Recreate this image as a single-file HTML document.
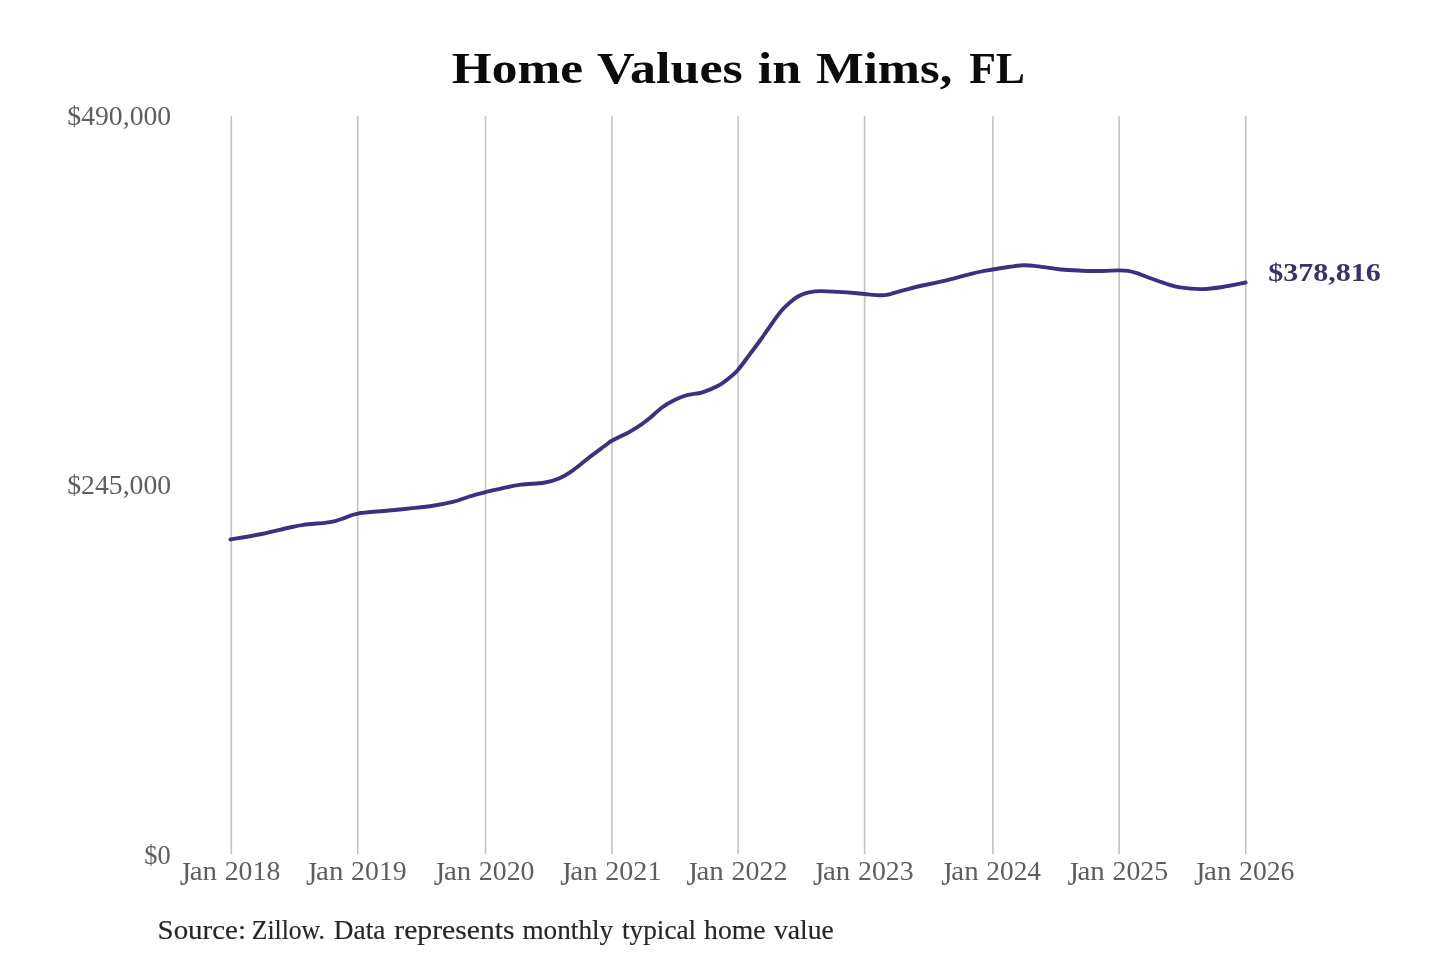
<!DOCTYPE html>
<html><head><meta charset="utf-8"><style>
html,body{margin:0;padding:0;background:#fff;width:1440px;height:960px;overflow:hidden}
svg{display:block;filter:blur(0.6px)}
</style></head><body>
<svg width="1440" height="960" viewBox="0 0 1440 960" font-family="Liberation Serif">
<rect width="1440" height="960" fill="#fff"/>
<g fill="#0b0b0b"><text x="451.77" y="83" font-size="44" font-weight="bold" textLength="131.19" lengthAdjust="spacingAndGlyphs">Home</text><text x="597.08" y="83" font-size="44" font-weight="bold" textLength="145.75" lengthAdjust="spacingAndGlyphs">Values</text><text x="757.71" y="83" font-size="44" font-weight="bold" textLength="43.42" lengthAdjust="spacingAndGlyphs">in</text><text x="816.09" y="83" font-size="44" font-weight="bold" textLength="136.23" lengthAdjust="spacingAndGlyphs">Mims,</text><text x="969.13" y="83" font-size="44" font-weight="bold" textLength="55.83" lengthAdjust="spacingAndGlyphs">FL</text></g>
<g stroke="#c2c2c2" stroke-width="1.6"><line x1="231.3" y1="116" x2="231.3" y2="854" /><line x1="357.7" y1="116" x2="357.7" y2="854" /><line x1="485.5" y1="116" x2="485.5" y2="854" /><line x1="611.9" y1="116" x2="611.9" y2="854" /><line x1="738.1" y1="116" x2="738.1" y2="854" /><line x1="864.6" y1="116" x2="864.6" y2="854" /><line x1="992.9" y1="116" x2="992.9" y2="854" /><line x1="1119.1" y1="116" x2="1119.1" y2="854" /><line x1="1245.7" y1="116" x2="1245.7" y2="854" /></g>
<g fill="#5e5e5e">
<text x="67.29" y="124.8" font-size="26.8" textLength="103.92" lengthAdjust="spacingAndGlyphs">$490,000</text>
<text x="67.29" y="494" font-size="26.8" textLength="103.81" lengthAdjust="spacingAndGlyphs">$245,000</text>
<text x="144.24" y="864" font-size="26.8" textLength="26.41" lengthAdjust="spacingAndGlyphs">$0</text>
<text x="179.63" y="880" font-size="26.8" transform="translate(0,862.3) scale(1,1.28) translate(0,-862.3)" textLength="11.12" lengthAdjust="spacingAndGlyphs">J</text><text x="189.73" y="880" font-size="26.8" textLength="27.27" lengthAdjust="spacingAndGlyphs">an</text><text x="224.69" y="880" font-size="26.8" textLength="55.62" lengthAdjust="spacingAndGlyphs">2018</text><text x="306.03" y="880" font-size="26.8" transform="translate(0,862.3) scale(1,1.28) translate(0,-862.3)" textLength="11.12" lengthAdjust="spacingAndGlyphs">J</text><text x="316.13" y="880" font-size="26.8" textLength="27.27" lengthAdjust="spacingAndGlyphs">an</text><text x="351.09" y="880" font-size="26.8" textLength="55.62" lengthAdjust="spacingAndGlyphs">2019</text><text x="433.83" y="880" font-size="26.8" transform="translate(0,862.3) scale(1,1.28) translate(0,-862.3)" textLength="11.12" lengthAdjust="spacingAndGlyphs">J</text><text x="443.93" y="880" font-size="26.8" textLength="27.27" lengthAdjust="spacingAndGlyphs">an</text><text x="478.89" y="880" font-size="26.8" textLength="55.62" lengthAdjust="spacingAndGlyphs">2020</text><text x="560.23" y="880" font-size="26.8" transform="translate(0,862.3) scale(1,1.28) translate(0,-862.3)" textLength="11.12" lengthAdjust="spacingAndGlyphs">J</text><text x="570.33" y="880" font-size="26.8" textLength="27.27" lengthAdjust="spacingAndGlyphs">an</text><text x="605.28" y="880" font-size="26.8" textLength="56.21" lengthAdjust="spacingAndGlyphs">2021</text><text x="686.43" y="880" font-size="26.8" transform="translate(0,862.3) scale(1,1.28) translate(0,-862.3)" textLength="11.12" lengthAdjust="spacingAndGlyphs">J</text><text x="696.53" y="880" font-size="26.8" textLength="27.27" lengthAdjust="spacingAndGlyphs">an</text><text x="731.48" y="880" font-size="26.8" textLength="55.92" lengthAdjust="spacingAndGlyphs">2022</text><text x="812.93" y="880" font-size="26.8" transform="translate(0,862.3) scale(1,1.28) translate(0,-862.3)" textLength="11.12" lengthAdjust="spacingAndGlyphs">J</text><text x="823.03" y="880" font-size="26.8" textLength="27.27" lengthAdjust="spacingAndGlyphs">an</text><text x="857.99" y="880" font-size="26.8" textLength="55.62" lengthAdjust="spacingAndGlyphs">2023</text><text x="941.23" y="880" font-size="26.8" transform="translate(0,862.3) scale(1,1.28) translate(0,-862.3)" textLength="11.12" lengthAdjust="spacingAndGlyphs">J</text><text x="951.33" y="880" font-size="26.8" textLength="27.27" lengthAdjust="spacingAndGlyphs">an</text><text x="986.30" y="880" font-size="26.8" textLength="54.77" lengthAdjust="spacingAndGlyphs">2024</text><text x="1067.43" y="880" font-size="26.8" transform="translate(0,862.3) scale(1,1.28) translate(0,-862.3)" textLength="11.12" lengthAdjust="spacingAndGlyphs">J</text><text x="1077.53" y="880" font-size="26.8" textLength="27.27" lengthAdjust="spacingAndGlyphs">an</text><text x="1112.49" y="880" font-size="26.8" textLength="55.63" lengthAdjust="spacingAndGlyphs">2025</text><text x="1194.03" y="880" font-size="26.8" transform="translate(0,862.3) scale(1,1.28) translate(0,-862.3)" textLength="11.12" lengthAdjust="spacingAndGlyphs">J</text><text x="1204.13" y="880" font-size="26.8" textLength="27.27" lengthAdjust="spacingAndGlyphs">an</text><text x="1239.09" y="880" font-size="26.8" textLength="55.34" lengthAdjust="spacingAndGlyphs">2026</text>
</g>
<path d="M230.4,539.5 C235.6,538.6 252.1,535.9 261.7,534.0 C271.2,532.1 280.8,529.5 287.7,528.0 C294.6,526.5 296.9,525.8 303.3,524.9 C309.7,524.0 320.8,523.3 326.2,522.6 C331.7,521.9 332.9,521.6 336.0,520.8 C339.1,520.0 341.4,519.0 345.0,517.8 C348.6,516.6 350.9,514.8 357.7,513.6 C364.5,512.4 377.8,511.6 386.0,510.8 C394.2,510.0 399.1,509.6 406.9,508.8 C414.7,507.9 425.1,507.0 432.9,505.8 C440.7,504.6 447.7,503.2 453.8,501.7 C459.8,500.1 464.1,498.1 469.4,496.5 C474.7,494.9 480.4,493.4 485.5,492.1 C490.6,490.8 494.1,490.0 500.0,488.8 C505.9,487.5 513.5,485.6 520.8,484.6 C528.1,483.6 537.5,483.8 543.8,482.8 C550.0,481.8 553.4,480.9 558.3,478.8 C563.2,476.7 567.9,473.8 572.9,470.3 C577.9,466.8 583.3,462.0 588.5,458.0 C593.7,454.0 600.3,449.2 604.2,446.3 C608.1,443.4 608.3,442.8 611.8,440.8 C615.3,438.8 621.6,436.0 625.0,434.3 C628.4,432.6 629.5,431.9 632.0,430.4 C634.5,428.9 637.3,427.1 640.0,425.3 C642.7,423.5 644.3,422.6 648.0,419.6 C651.7,416.6 657.5,410.8 662.0,407.5 C666.5,404.2 670.8,401.9 675.0,399.8 C679.2,397.8 682.4,396.4 687.0,395.2 C691.6,393.9 697.3,393.9 702.5,392.3 C707.7,390.7 713.4,388.4 718.1,385.8 C722.8,383.2 727.3,379.5 730.6,376.8 C733.9,374.1 735.0,373.5 738.1,369.8 C741.2,366.1 745.6,359.9 749.4,354.8 C753.2,349.8 757.6,344.0 760.8,339.5 C764.0,335.0 765.3,332.8 768.8,328.0 C772.2,323.2 777.1,315.8 781.2,311.0 C785.4,306.2 790.5,302.0 793.8,299.3 C797.0,296.6 798.5,296.2 801.0,295.0 C803.5,293.8 805.7,292.9 809.0,292.3 C812.3,291.7 815.9,291.2 820.8,291.1 C825.7,291.0 832.9,291.6 838.5,291.9 C844.1,292.2 849.9,292.6 854.2,293.0 C858.6,293.4 860.1,293.6 864.6,294.0 C869.1,294.4 876.9,295.3 881.2,295.3 C885.6,295.3 886.9,294.8 891.0,293.9 C895.1,292.9 901.8,290.8 906.0,289.6 C910.2,288.5 909.1,288.6 916.0,287.0 C922.9,285.4 937.8,282.4 947.3,280.1 C956.8,277.8 965.7,275.1 973.3,273.3 C980.9,271.5 986.8,270.6 992.9,269.5 C999.0,268.4 1004.6,267.5 1009.8,266.8 C1015.0,266.1 1019.0,265.3 1024.0,265.3 C1029.0,265.3 1033.8,265.9 1040.0,266.6 C1046.2,267.3 1054.2,268.8 1061.2,269.5 C1068.3,270.2 1075.2,270.4 1082.1,270.7 C1089.0,270.9 1096.7,271.1 1102.9,271.0 C1109.1,270.9 1114.9,270.4 1119.1,270.4 C1123.3,270.4 1125.0,270.4 1128.0,270.9 C1131.0,271.4 1133.8,272.2 1137.0,273.2 C1140.2,274.2 1142.3,275.3 1147.0,277.0 C1151.7,278.7 1159.9,281.8 1165.4,283.5 C1170.9,285.2 1174.0,286.5 1180.0,287.4 C1186.0,288.3 1194.6,289.2 1201.7,289.1 C1208.8,289.0 1215.2,288.1 1222.5,287.0 C1229.8,285.9 1241.8,283.2 1245.6,282.5" fill="none" stroke="#393283" stroke-width="3.9" stroke-linecap="round" stroke-linejoin="round"/>
<g fill="#38326f"><text x="1268.20" y="281" font-size="26" font-weight="bold" textLength="112.60" lengthAdjust="spacingAndGlyphs">$378,816</text></g>
<g fill="#262626" stroke="#262626" stroke-width="0.15" transform="translate(0,939) scale(1,1.08) translate(0,-939)"><text x="157.57" y="939" font-size="26" textLength="88.38" lengthAdjust="spacingAndGlyphs">Source:</text><text x="251.72" y="939" font-size="26" textLength="73.16" lengthAdjust="spacingAndGlyphs">Zillow.</text><text x="333.78" y="939" font-size="26" textLength="51.63" lengthAdjust="spacingAndGlyphs">Data</text><text x="394.31" y="939" font-size="26" textLength="120.30" lengthAdjust="spacingAndGlyphs">represents</text><text x="522.46" y="939" font-size="26" textLength="90.74" lengthAdjust="spacingAndGlyphs">monthly</text><text x="622.03" y="939" font-size="26" textLength="74.15" lengthAdjust="spacingAndGlyphs">typical</text><text x="704.12" y="939" font-size="26" textLength="61.45" lengthAdjust="spacingAndGlyphs">home</text><text x="773.90" y="939" font-size="26" textLength="59.89" lengthAdjust="spacingAndGlyphs">value</text></g>
</svg>
</body></html>
